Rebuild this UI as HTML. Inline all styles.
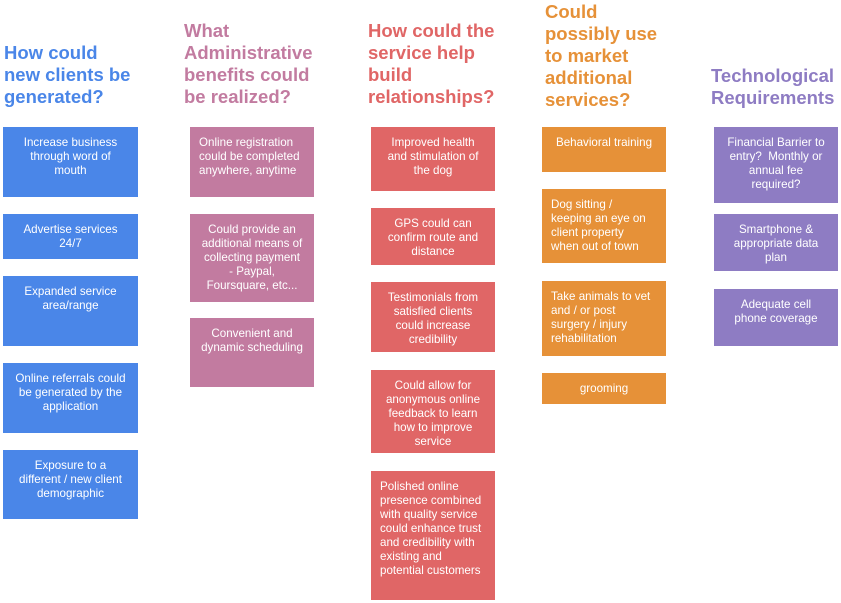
<!DOCTYPE html>
<html><head><style>
body{margin:0;width:841px;height:603px;background:#fff;position:relative;overflow:hidden;font-family:"Liberation Sans",Arial,sans-serif}
.h{position:absolute;font-weight:bold;font-size:18.5px;line-height:22px}
.b{position:absolute;color:#fff;font-size:11.6px;line-height:14px;text-align:center;box-sizing:border-box;padding:9px 2px 0;white-space:nowrap}
.l{text-align:left;padding-left:9px}
.c1{background:#4a86e8;left:3px;width:135px}
.c2{background:#c27ba0;left:190px;width:124px}
.c3{background:#e06666;left:371px;width:124px}
.c4{background:#e69138;left:542px;width:124px}
.c5{background:#8e7cc3;left:714px;width:124px}
</style></head><body>
<div class="h" style="left:4px;top:42px;color:#4a86e8">How could<br>new clients be<br>generated?</div>
<div class="h" style="left:184px;top:20px;color:#c27ba0">What<br>Administrative<br>benefits could<br>be realized?</div>
<div class="h" style="left:368px;top:20px;color:#e06666">How could the<br>service help<br>build<br>relationships?</div>
<div class="h" style="left:545px;top:1px;color:#e69138">Could<br>possibly use<br>to market<br>additional<br>services?</div>
<div class="h" style="left:711px;top:65px;color:#8e7cc3">Technological<br>Requirements</div>

<div class="b c1" style="top:127px;height:70px">Increase business<br>through word of<br>mouth</div>
<div class="b c1" style="top:214px;height:45px">Advertise services<br>24/7</div>
<div class="b c1" style="top:276px;height:70px">Expanded service<br>area/range</div>
<div class="b c1" style="top:363px;height:70px">Online referrals could<br>be generated by the<br>application</div>
<div class="b c1" style="top:450px;height:69px">Exposure to a<br>different / new client<br>demographic</div>

<div class="b c2 l" style="top:127px;height:70px">Online registration<br>could be completed<br>anywhere, anytime</div>
<div class="b c2" style="top:214px;height:88px">Could provide an<br>additional means of<br>collecting payment<br>- Paypal,<br>Foursquare, etc...</div>
<div class="b c2" style="top:318px;height:69px">Convenient and<br>dynamic scheduling</div>

<div class="b c3" style="top:127px;height:64px">Improved health<br>and stimulation of<br>the dog</div>
<div class="b c3" style="top:208px;height:57px">GPS could can<br>confirm route and<br>distance</div>
<div class="b c3" style="top:282px;height:70px">Testimonials from<br>satisfied clients<br>could increase<br>credibility</div>
<div class="b c3" style="top:370px;height:83px">Could allow for<br>anonymous online<br>feedback to learn<br>how to improve<br>service</div>
<div class="b c3 l" style="top:471px;height:129px">Polished online<br>presence combined<br>with quality service<br>could enhance trust<br>and credibility with<br>existing and<br>potential customers</div>

<div class="b c4" style="top:127px;height:45px">Behavioral training</div>
<div class="b c4 l" style="top:189px;height:74px">Dog sitting /<br>keeping an eye on<br>client property<br>when out of town</div>
<div class="b c4 l" style="top:281px;height:75px">Take animals to vet<br>and / or post<br>surgery / injury<br>rehabilitation</div>
<div class="b c4" style="top:373px;height:31px">grooming</div>

<div class="b c5" style="top:127px;height:76px">Financial Barrier to<br>entry?&nbsp; Monthly or<br>annual fee<br>required?</div>
<div class="b c5" style="top:214px;height:57px">Smartphone &amp;<br>appropriate data<br>plan</div>
<div class="b c5" style="top:289px;height:57px">Adequate cell<br>phone coverage</div>
</body></html>
